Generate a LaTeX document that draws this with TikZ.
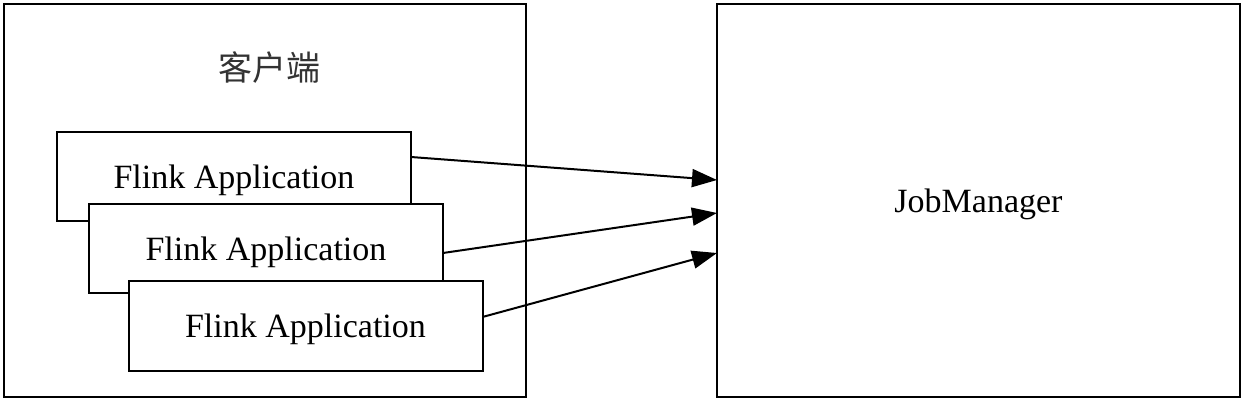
\documentclass[tikz,border=0pt]{standalone}
\usepackage{fontspec}
\setmainfont{Liberation Serif}
\newfontfamily\cjk{Noto Sans CJK SC}
\usepackage{tikz}
\usetikzlibrary{calc}
\usetikzlibrary{arrows.meta}
\tikzset{
	bigbox/.style={draw,line width=1pt,minimum width=261pt,minimum height=196.5pt,outer sep=0pt,inner sep=0pt},
	appbox/.style={draw,fill=white,line width=1pt,minimum width=177pt,minimum height=44.5pt,outer sep=0pt,text depth=0pt,font=\fontsize{17}{20}\selectfont},
	submit/.style={line width=1pt,-{Triangle[length=12.5pt,width=9pt]}}
}

\begin{document}
\begin{tikzpicture}[x=0.5pt,y=-0.5pt]
					\useasboundingbox (0,0) rectangle (1244,401);
					\node[bigbox] (client) at (265,200.5) {};
					\node[font=\cjk\fontsize{17}{20}\selectfont,text=black!80] (clientlabel) at (269,68) {客户端};
					\node[bigbox,minimum width=261.5pt,text depth=0pt,font=\fontsize{17}{20}\selectfont] (jm) at (978.5,200.5) {JobManager};
					\node[appbox] (app1) at (234,176.5) {Flink Application};
					\node[appbox] (app2) at (266,249) {Flink Application};
					\node[appbox] (app3) at (305.5,326) {Flink Application};
					\draw[submit] ([yshift=9.75pt]app1.east)--([yshift=10.25pt]jm.west);
					\draw[submit] ([yshift=-2pt]app2.east)--([yshift=-6.25pt]jm.west);
					\draw[submit] ([yshift=4.5pt]app3.east)--([yshift=-26.25pt]jm.west);
				\end{tikzpicture}
\end{document}
